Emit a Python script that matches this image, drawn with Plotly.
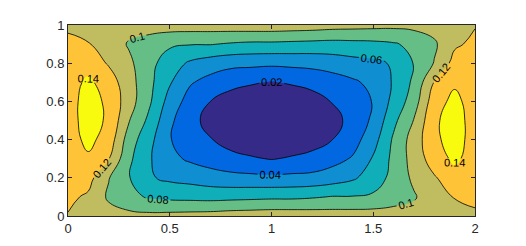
import plotly.graph_objects as go

# grid positions
x_grid = [0.0, 0.1, 0.2, 0.3, 0.4, 0.5, 0.6, 0.7, 0.8, 0.9, 1.0,
          1.1, 1.2, 1.3, 1.4, 1.5, 1.6, 1.7, 1.8, 1.9, 2.0]
y_grid = [0.0, 0.1, 0.2, 0.3, 0.4, 0.5, 0.6, 0.7, 0.8, 0.9, 1.0]

# field values, one row per y
z_rows = [
    [0.119, 0.113, 0.108, 0.106, 0.105, 0.106, 0.107, 0.108, 0.110, 0.111, 0.112, 0.112, 0.111, 0.110, 0.110, 0.110, 0.108, 0.108, 0.108, 0.112, 0.117],
    [0.124, 0.117, 0.097, 0.085, 0.078, 0.075, 0.074, 0.073, 0.074, 0.075, 0.076, 0.076, 0.078, 0.081, 0.081, 0.083, 0.092, 0.098, 0.112, 0.121, 0.124],
    [0.127, 0.127, 0.101, 0.081, 0.062, 0.056, 0.053, 0.049, 0.046, 0.045, 0.044, 0.045, 0.046, 0.050, 0.057, 0.070, 0.086, 0.104, 0.118, 0.132, 0.128],
    [0.129, 0.137, 0.121, 0.084, 0.062, 0.045, 0.037, 0.031, 0.026, 0.022, 0.019, 0.022, 0.025, 0.033, 0.042, 0.062, 0.085, 0.108, 0.130, 0.144, 0.131],
    [0.131, 0.145, 0.132, 0.090, 0.066, 0.041, 0.030, 0.021, 0.012, 0.008, 0.006, 0.008, 0.013, 0.020, 0.032, 0.052, 0.083, 0.109, 0.136, 0.148, 0.132],
    [0.132, 0.148, 0.137, 0.101, 0.075, 0.044, 0.026, 0.014, 0.007, 0.003, 0.002, 0.003, 0.007, 0.014, 0.026, 0.044, 0.075, 0.101, 0.137, 0.148, 0.132],
    [0.132, 0.148, 0.136, 0.109, 0.083, 0.052, 0.032, 0.020, 0.013, 0.008, 0.006, 0.008, 0.012, 0.021, 0.030, 0.041, 0.066, 0.090, 0.132, 0.145, 0.131],
    [0.131, 0.144, 0.130, 0.108, 0.085, 0.062, 0.042, 0.033, 0.025, 0.022, 0.019, 0.022, 0.026, 0.031, 0.037, 0.045, 0.062, 0.084, 0.121, 0.137, 0.129],
    [0.128, 0.132, 0.118, 0.104, 0.086, 0.070, 0.057, 0.050, 0.046, 0.045, 0.044, 0.045, 0.046, 0.049, 0.053, 0.056, 0.062, 0.081, 0.101, 0.127, 0.127],
    [0.124, 0.121, 0.112, 0.098, 0.092, 0.083, 0.081, 0.081, 0.078, 0.076, 0.076, 0.075, 0.074, 0.073, 0.074, 0.075, 0.078, 0.085, 0.097, 0.117, 0.124],
    [0.117, 0.112, 0.108, 0.108, 0.108, 0.110, 0.110, 0.110, 0.111, 0.112, 0.112, 0.111, 0.110, 0.108, 0.107, 0.106, 0.105, 0.106, 0.108, 0.113, 0.119],
]

x_ticks = [0, 0.5, 1, 1.5, 2]
x_labels = ["0", "0.5", "1", "1.5", "2"]
y_ticks = [0, 0.2, 0.4, 0.6, 0.8, 1]
y_labels = ["0", "0.2", "0.4", "0.6", "0.8", "1"]

# parula colours for the 8 bands
band_colors = ["rgb(53,42,135)", "rgb(2,104,225)", "rgb(16,142,210)", "rgb(15,174,185)",
               "rgb(101,190,134)", "rgb(192,188,96)", "rgb(255,195,55)", "rgb(249,251,14)"]
cscale = [[i / 7, c] for i, c in enumerate(band_colors)]

fig = go.Figure(go.Contour(
    x=x_grid, y=y_grid, z=z_rows,
    autocontour=False,
    contours=dict(start=0.02, end=0.14, size=0.02, coloring="fill",
                  showlabels=True, labelformat=".2~f",
                  labelfont=dict(family="Liberation Sans, Arial", size=11, color="black")),
    colorscale=cscale,
    showscale=False,
    line=dict(color="black", width=0.8, smoothing=1.3),
    hoverinfo="skip",
))

axis_style = dict(showline=True, linecolor="rgb(38,38,38)", linewidth=1, mirror="ticks",
                  ticks="inside", ticklen=4, tickcolor="rgb(38,38,38)",
                  showgrid=False, zeroline=False,
                  tickfont=dict(family="Liberation Sans, Arial", size=13, color="rgb(38,38,38)"))

fig.update_xaxes(range=[0, 2], tickvals=x_ticks, ticktext=x_labels, **axis_style)
fig.update_yaxes(range=[0, 1], tickvals=y_ticks, ticktext=y_labels, **axis_style)

# the page body adds an 8 px margin, so the figure is sized to fit inside it
fig.update_layout(width=518, height=238, margin=dict(l=60, r=51, t=10, b=29),
                  paper_bgcolor="white", plot_bgcolor="white", showlegend=False)

fig.write_html("out.html")
